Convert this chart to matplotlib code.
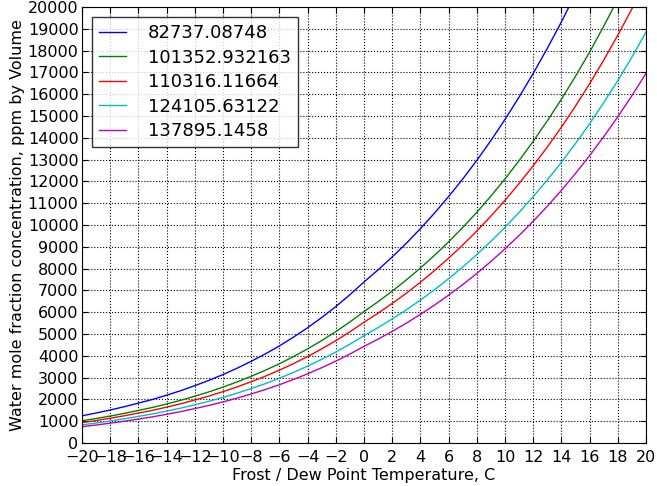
import matplotlib
matplotlib.use("Agg")
import matplotlib.pyplot as plt
import numpy as np

# frost / dew point temperature, C (1 degree steps)
temps = list(range(-20, 21))

# pressure labels (legend)
pressures = ["82737.08748", "101352.932163", "110316.11664",
             "124105.63122", "137895.1458"]

# ppm by volume
ppm_1 = [1248, 1375, 1514, 1665, 1830, 1998, 2193, 2399, 2630, 2873,
         3141, 3431, 3747, 4086, 4454, 4856, 5288, 5756, 6258, 6801,
         7387, 7942, 8533, 9160, 9832, 10546, 11305, 12108, 12964, 13874,
         14843, 15869, 16954, 18102, 19315, 20606, 21970, 23415, 24939, 26553,
         28268]
ppm_2 = [1019, 1123, 1236, 1359, 1494, 1631, 1790, 1959, 2147, 2345,
         2564, 2801, 3058, 3335, 3636, 3964, 4316, 4699, 5109, 5552,
         6030, 6483, 6966, 7478, 8026, 8609, 9228, 9884, 10583, 11326,
         12117, 12954, 13840, 14777, 15768, 16821, 17934, 19114, 20359, 21676,
         23076]
ppm_3 = [936, 1031, 1135, 1249, 1372, 1498, 1645, 1800, 1972, 2154,
         2356, 2573, 2810, 3064, 3341, 3642, 3966, 4317, 4694, 5100,
         5540, 5957, 6400, 6870, 7374, 7909, 8478, 9081, 9723, 10406,
         11133, 11902, 12715, 13576, 14487, 15455, 16477, 17561, 18705, 19915,
         21201]
ppm_4 = [832, 917, 1009, 1110, 1220, 1332, 1462, 1600, 1753, 1915,
         2094, 2287, 2498, 2724, 2969, 3237, 3525, 3838, 4172, 4534,
         4924, 5295, 5689, 6107, 6555, 7030, 7536, 8072, 8643, 9249,
         9896, 10579, 11303, 12068, 12877, 13738, 14646, 15610, 16626, 17702,
         18845]
ppm_5 = [749, 825, 908, 999, 1098, 1199, 1316, 1440, 1578, 1724,
         1885, 2058, 2248, 2452, 2672, 2914, 3173, 3454, 3755, 4080,
         4432, 4765, 5120, 5496, 5899, 6327, 6783, 7265, 7778, 8325,
         8906, 9521, 10172, 10861, 11589, 12364, 13182, 14049, 14964, 15932,
         16961]

colori = ['b', 'g', 'r', 'c', 'm']

fig = plt.figure(figsize=(6.57, 4.86), dpi=100)
ax = fig.add_axes([82/657, 43/486, 564/657, 436/486])

for serie, col, lab in zip([ppm_1, ppm_2, ppm_3, ppm_4, ppm_5], colori, pressures):
    ax.plot(temps, serie, color=col, linewidth=1.0, label=lab)

ax.set_xlim(-20, 20)
ax.set_ylim(0, 20000)
ax.set_xticks(np.arange(-20, 21, 2))
ax.set_yticks(np.arange(0, 20001, 1000))
ax.tick_params(direction='in', top=True, right=True, length=4,
               labelsize=11.5)
ax.tick_params(axis='y', pad=2.5)
ax.tick_params(axis='x', pad=5)
ax.grid(True, color='black', linestyle=':', linewidth=0.8)

ax.set_xlabel("Frost / Dew Point Temperature, C", fontsize=11.5, labelpad=2)
ax.set_ylabel("Water mole fraction concentration, ppm by Volume",
              fontsize=11.5, labelpad=2)

leg = ax.legend(loc='upper left', fontsize=13, fancybox=False,
                handlelength=1.5, handletextpad=1.2, borderaxespad=0.55,
                labelspacing=0.36)
leg.get_frame().set_edgecolor('black')
leg.get_frame().set_linewidth(1.0)

fig.savefig("out.png", dpi=100)
